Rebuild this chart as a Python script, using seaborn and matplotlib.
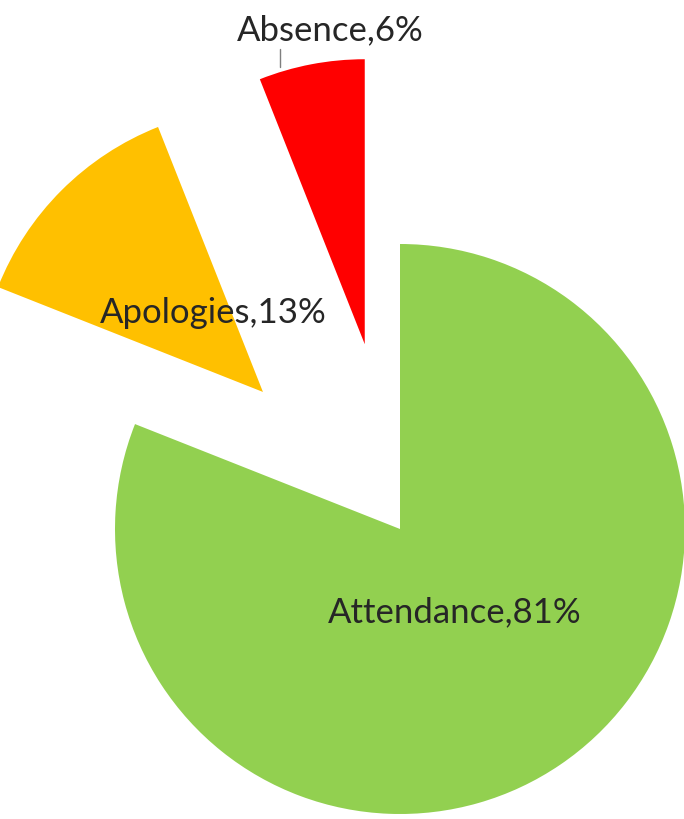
import matplotlib
matplotlib.use("Agg")
import matplotlib.pyplot as plt
import seaborn as sns

# data
categories = ["Attendance", "Apologies", "Absence"]
shares = [81, 13, 6]
colors = ["#92D050", "#FFC000", "#FF0000"]
explode = [0, 0.68, 0.66]

sns.set_style("white")
plt.rcParams['font.family'] = ['Lato', 'DejaVu Sans']

fig = plt.figure(figsize=(6.84, 8.2), dpi=100)
ax = fig.add_axes([0, 0, 1, 1])

wedges, _ = ax.pie(shares, colors=colors, explode=explode, startangle=90,
                   counterclock=False, radius=1.0,
                   wedgeprops=dict(linewidth=0))

# 1 data unit = 285 px, pie centre at (400, 530) px
ax.set_aspect('auto')
ax.set_xlim(-400 / 285, (684 - 400) / 285)
ax.set_ylim(-(820 - 530) / 285, 530 / 285)
ax.axis('off')

label_pos = [(0.193, -0.288), (-0.656, 0.761), (-0.246, 1.754)]
for name, val, (x, y) in zip(categories, shares, label_pos):
    ax.text(x, y, f"{name},{val}%", ha='center', va='center',
            fontsize=25, color='#262626')

# leader line for Absence label
ax.plot([-0.421, -0.421], [1.684, 1.621], color='#7f7f7f', lw=1)

fig.savefig("out.png", dpi=100)
